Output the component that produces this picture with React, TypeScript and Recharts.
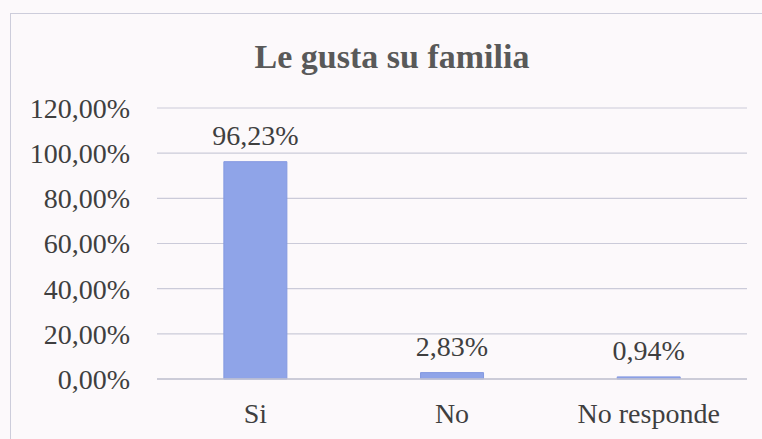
import React from "react";
import { BarChart, Bar, XAxis, YAxis, CartesianGrid, LabelList } from "recharts";

const categories = ["Si", "No", "No responde"];
const values = [96.23, 2.83, 0.94];
const yTicks = [0, 20, 40, 60, 80, 100, 120];
const title = "Le gusta su familia";

const data = categories.map((c, i) => ({ name: c, value: values[i] }));

const fmt = (v: number) => v.toFixed(2).replace(".", ",") + "%";

const FONT = "'Liberation Serif', 'Times New Roman', serif";

export default function App() {
  return (
    <div
      style={{
        position: "fixed",
        left: 0,
        top: 0,
        width: 762,
        height: 439,
        overflow: "hidden",
        background: "#fcf9fb",
        fontFamily: FONT,
      }}
    >
      <div
        style={{
          position: "absolute",
          left: 10,
          top: 13,
          width: 800,
          height: 500,
          border: "1px solid #cdcddb",
        }}
      />
      <svg
        width={762}
        height={100}
        style={{ position: "absolute", left: 0, top: 0 }}
      >
        <text
          x={392}
          y={68}
          textAnchor="middle"
          fontFamily={FONT}
          fontWeight="bold"
          fontSize={34}
          fill="#595959"
        >
          {title}
        </text>
      </svg>
      <div style={{ position: "absolute", left: 0, top: 0 }}>
        <BarChart
          width={762}
          height={439}
          data={data}
          margin={{ top: 108, right: 15, left: 0, bottom: 0 }}
          barCategoryGap="34%"
        >
          <CartesianGrid
            vertical={false}
            stroke="#cbcbd9"
            strokeWidth={1.2}
          />
          <XAxis
            dataKey="name"
            height={60}
            tickSize={0}
            tickMargin={24}
            tickLine={false}
            axisLine={{ stroke: "#c4c4d2", strokeWidth: 1.4 }}
            tick={{ fill: "#3f3f3f", fontSize: 28, fontFamily: FONT }}
            interval={0}
          />
          <YAxis
            width={157}
            domain={[0, 120]}
            ticks={yTicks}
            tickFormatter={fmt}
            tickSize={0}
            tickMargin={27}
            tickLine={false}
            axisLine={false}
            tick={{ fill: "#3f3f3f", fontSize: 28, fontFamily: FONT }}
            interval={0}
          />
          <Bar
            dataKey="value"
            fill="#8fa4e8"
            stroke="#8499e0"
            strokeWidth={1}
            isAnimationActive={false}
          >
            <LabelList
              dataKey="value"
              position="top"
              offset={17}
              formatter={(v: any) => fmt(Number(v))}
              fill="#3f3f3f"
              fontSize={28}
              fontFamily={FONT}
            />
          </Bar>
        </BarChart>
      </div>
    </div>
  );
}
